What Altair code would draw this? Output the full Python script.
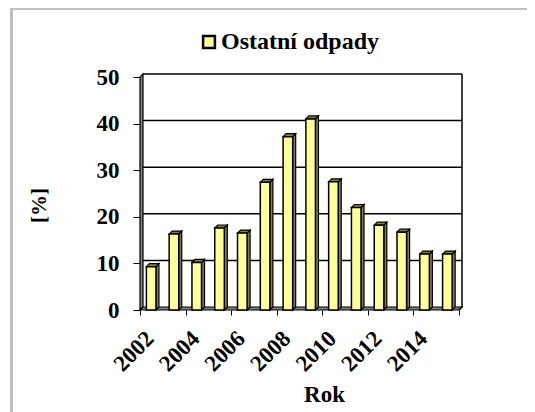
import altair as alt
import pandas as pd

years = list(range(2002, 2016))
values = [9.3, 16.3, 10.2, 17.6, 16.5, 27.4, 37.2, 41.0, 27.5, 22.0, 18.2, 16.7, 12.0, 12.0]
series = "Ostatní odpady"
y_ticks = [0, 10, 20, 30, 40, 50]

W, H = 322, 236
DX = 3 / 22.75      # depth in x units
DY = 3 / 4.66       # depth in y units
BAR_L, BAR_R = 0.28, 0.70

front, side, top = [], [], []
for yr, v in zip(years, values):
    l, r = yr + BAR_L, yr + BAR_R
    front.append(dict(x=l, x2=r, y=0, y2=v, s=series))
    side += [dict(b=yr, x=r, y=0, y2=v), dict(b=yr, x=r + DX, y=DY, y2=v + DY)]
    top += [dict(b=yr, x=l, y=v, y2=v), dict(b=yr, x=l + DX, y=v, y2=v + DY),
            dict(b=yr, x=r, y=v, y2=v + DY), dict(b=yr, x=r + DX, y=v + DY, y2=v + DY)]

xs = alt.Scale(domain=[2002, 2016 + DX], nice=False, zero=False)
ys = alt.Scale(domain=[0, 50 + DY], nice=False, zero=False)
X = alt.X("x:Q", scale=xs, title="Rok")
Y = alt.Y("y:Q", scale=ys, title="[%]")
FONT = "Liberation Serif"

# axes carried by the first layer
axes = alt.Chart(pd.DataFrame({"x": [2002], "y": [0]})).mark_point(opacity=0).encode(
    x=alt.X("x:Q", scale=xs, title="Rok", axis=alt.Axis(
        values=list(range(2002, 2017)), labelExpr="datum.value % 2 == 0 && datum.value < 2016 ? datum.value : ''",
        labelOverlap=False, labelAngle=-45, labelAlign="right", labelBaseline="top", labelOffset=2, labelPadding=12,
        labelFont=FONT, labelFontSize=23, labelFontWeight="bold", labelColor="black",
        titleFont=FONT, titleFontSize=23, titleFontWeight="bold", titleColor="black", titleX=184, titleY=91,
        titleBaseline="alphabetic",
        tickColor="black", tickSize=5, domain=False, grid=False)),
    y=alt.Y("y:Q", scale=ys, title="[%]", axis=alt.Axis(
        values=y_ticks, labelFont=FONT, labelFontSize=23, labelFontWeight="bold", labelColor="black", labelPadding=14,
        titleFont=FONT, titleFontSize=21, titleFontWeight="bold", titleColor="black", titleX=-91, titleY=131,
        tickColor="black", tickSize=7, domain=False, grid=False)),
)

# outer frame (top and left edges of the picture)
frame_top = alt.Chart(pd.DataFrame({"k": [0]})).mark_rule(color="#C0C0C0", strokeWidth=3).encode(
    x=alt.value(-130), x2=alt.value(W + 65), y=alt.value(-65.5))
frame_left = alt.Chart(pd.DataFrame({"k": [0]})).mark_rule(color="#C0C0C0", strokeWidth=3).encode(
    x=alt.value(-128.5), y=alt.value(-67), y2=alt.value(H + 102))

# walls
left_wall = alt.Chart(pd.DataFrame([dict(x=2002, y=0, y2=50), dict(x=2002 + DX, y=DY, y2=50 + DY)])).mark_area(
    color="#808080", stroke="black", strokeWidth=1.2).encode(X, Y, y2="y2:Q")
floor = alt.Chart(pd.DataFrame([dict(x=2002, y=0, y2=0), dict(x=2002 + DX, y=0, y2=DY),
                                dict(x=2016, y=0, y2=DY), dict(x=2016 + DX, y=DY, y2=DY)])).mark_area(
    color="#808080", stroke="black", strokeWidth=1.2).encode(X, Y, y2="y2:Q")

# back-wall grid
grid = alt.Chart(pd.DataFrame({"y": [t + DY for t in y_ticks[1:]]})).mark_rule(color="black", strokeWidth=1.5).encode(
    x=alt.value(3), x2=alt.value(W), y=Y)
right_edge = alt.Chart(pd.DataFrame([dict(x=2016, y=0), dict(x=2016 + DX, y=DY), dict(x=2016 + DX, y=50 + DY)])).mark_line(
    color="black", strokeWidth=1.5).encode(X, Y, order=alt.Order("y:Q"))

side_m = alt.Chart(pd.DataFrame(side)).mark_area(color="#808040", stroke="black", strokeWidth=1.2).encode(
    X, Y, y2="y2:Q", detail="b:N")
top_m = alt.Chart(pd.DataFrame(top)).mark_area(color="#808040", stroke="black", strokeWidth=1.2).encode(
    X, Y, y2="y2:Q", detail="b:N")
front_m = alt.Chart(pd.DataFrame(front)).mark_bar(stroke="black", strokeWidth=1.5).encode(
    x=X, x2="x2:Q", y=Y, y2="y2:Q",
    color=alt.Color("s:N", scale=alt.Scale(range=["#FFFF99"]), legend=alt.Legend(
        title=None, orient="none", legendX=57, legendY=-44, symbolType="square", symbolSize=140,
        symbolStrokeColor="black", symbolStrokeWidth=2.5, labelOffset=0,
        labelFont=FONT, labelFontSize=24, labelFontWeight="bold", labelColor="black", labelLimit=300)),
)

chart = alt.layer(axes, frame_top, frame_left, left_wall, floor, grid, right_edge, side_m, top_m, front_m).properties(
    width=W, height=H,
    autosize=alt.AutoSizeParams(type="none", contains="content"),
    padding={"left": 132, "top": 66, "right": 65, "bottom": 102},
).configure_view(stroke=None)

chart.save("out.html", embed_options={"renderer": "svg", "actions": False})
